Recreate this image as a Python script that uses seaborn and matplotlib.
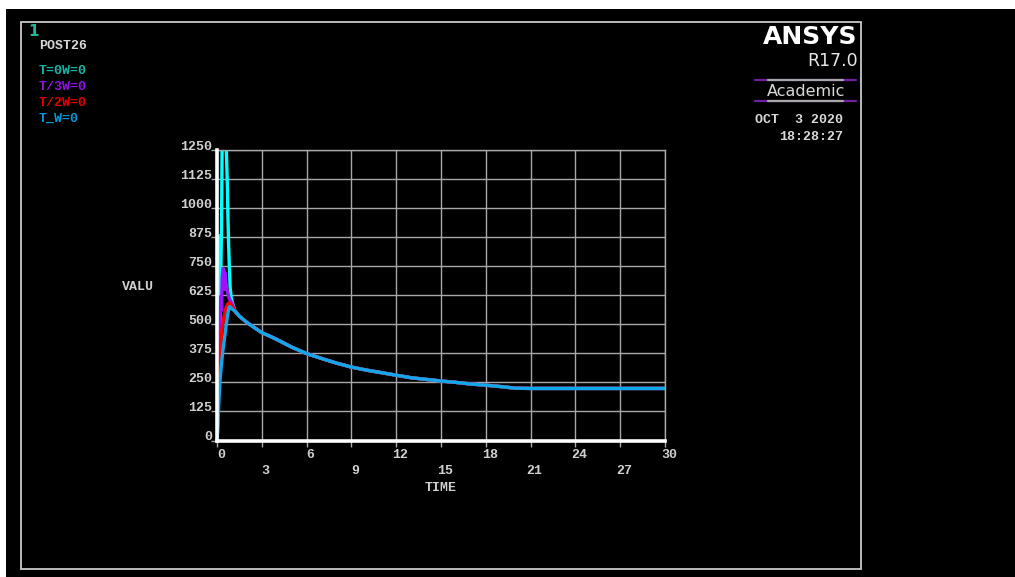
import numpy as np
import pandas as pd
import matplotlib
matplotlib.use("Agg")
import matplotlib.pyplot as plt
import seaborn as sns
from matplotlib.patches import Rectangle
from matplotlib.lines import Line2D

# ---------------- data ----------------
series_names = ["T=0W=0", "T/3W=0", "T/2W=0", "T_W=0"]
series_colors = ["#00ffff", "#a010ff", "#ff0000", "#10a8ec"]
label_colors = ["#12b5a5", "#9010e0", "#e00000", "#0098d8"]

cyan_time = [0, 0.05, 0.1, 0.15, 0.2, 0.3, 0.35, 0.45, 0.55, 0.6, 0.65, 0.7, 0.72,
             0.77, 0.82, 0.88, 0.95, 1.0]
cyan_vals = [0, 120, 300, 880, 500, 900, 1350, 1500, 1350, 1300, 1200, 1080, 1000,
             860, 760, 660, 615, 600]

purple_time = [0, 0.05, 0.1, 0.15, 0.2, 0.25, 0.3, 0.35, 0.4, 0.45, 0.5, 0.55, 0.6,
               0.65, 0.7, 0.8, 0.9, 1.0]
purple_vals = [0, 60, 200, 350, 520, 620, 560, 700, 740, 735, 650, 720, 680, 650,
               640, 615, 600, 590]

red_time = [0, 0.05, 0.1, 0.2, 0.3, 0.4, 0.5, 0.6, 0.7, 0.8, 0.9, 1.0]
red_vals = [0, 80, 220, 380, 460, 510, 540, 570, 585, 592, 588, 580]

blue_time = [0, 0.05, 0.1, 0.15, 0.2, 0.3, 0.4, 0.5, 0.6, 0.7, 0.8, 0.85, 1.0]
blue_vals = [0, 40, 130, 200, 260, 330, 390, 440, 490, 535, 572, 576, 566]

tail_time = [1.2, 1.5, 2, 2.5, 3, 3.5, 4, 5, 6, 7, 8, 9, 10, 11, 12, 13, 14, 15,
             16, 17, 18, 19, 20, 21, 30]
tail_vals = [557, 535, 508, 486, 464, 450, 435, 402, 374, 353, 333, 316, 303, 292,
             281, 270, 263, 256, 250, 243, 238, 232, 225, 224, 224]

x_ticks = [0, 3, 6, 9, 12, 15, 18, 21, 24, 27, 30]
x_tick_labels = ["0", "3", "6", "9", "12", "15", "18", "21", "24", "27", "30"]
y_ticks = [0, 125, 250, 375, 500, 625, 750, 875, 1000, 1125, 1250]
y_tick_labels = ["0", "125", "250", "375", "500", "625", "750", "875", "1000", "1125", "1250"]

early = [(cyan_time, cyan_vals), (purple_time, purple_vals),
         (red_time, red_vals), (blue_time, blue_vals)]
frames = []
for name, (tt, vv) in zip(series_names, early):
    frames.append(pd.DataFrame({"time": list(tt) + tail_time,
                                "value": list(vv) + tail_vals,
                                "series": name}))
df = pd.concat(frames, ignore_index=True)

# ---------------- style ----------------
sns.set_style("dark", {"axes.facecolor": "black", "figure.facecolor": "white"})
plt.rcParams["font.family"] = ["Liberation Mono", "DejaVu Sans Mono"]

W, H = 1015, 577
fig = plt.figure(figsize=(W / 100, H / 100), dpi=100)
fig.patch.set_facecolor("white")


def fx(px):
    return px / W


def fy(py):
    return 1 - py / H


# black background and frame
fig.add_artist(Rectangle((fx(6), 0), 1 - fx(6), fy(9), transform=fig.transFigure,
                         facecolor="black", edgecolor="none", zorder=0))
fig.add_artist(Rectangle((fx(21), fy(569)), fx(861) - fx(21), fy(22) - fy(569),
                         transform=fig.transFigure, facecolor="none",
                         edgecolor="#c8c8c8", lw=1.3, zorder=1))

ax = fig.add_axes([fx(217), fy(440.5), fx(665) - fx(217), fy(150) - fy(440.5)])
ax.set_facecolor("black")
ax.set_zorder(2)

sns.lineplot(data=df, x="time", y="value", hue="series", hue_order=series_names,
             palette=dict(zip(series_names, series_colors)), estimator=None,
             sort=False, lw=2.4, legend=False, ax=ax)

ax.set_xlim(0, 30)
ax.set_ylim(0, 1250)
ax.set_xticks(x_ticks)
ax.set_yticks(y_ticks)
ax.set_xticklabels([])
ax.set_yticklabels([])
ax.grid(True, color="#a8a8a8", lw=1.0)
ax.set_axisbelow(True)
ax.tick_params(axis="both", length=4, width=1, color="#a8a8a8", direction="out",
               bottom=True, left=True)
ax.set_xlabel("")
ax.set_ylabel("")
for s in ["top", "right"]:
    ax.spines[s].set_color("#a8a8a8")
    ax.spines[s].set_linewidth(1.0)
for s in ["left", "bottom"]:
    ax.spines[s].set_color("white")
    ax.spines[s].set_linewidth(2.6)
    ax.spines[s].set_zorder(5)

tick_font = dict(fontsize=9.5, color="#d0d0d0", fontweight="bold")
for i, (t, lab) in enumerate(zip(x_ticks, x_tick_labels)):
    dy = -15 if i % 2 == 0 else -30
    ax.annotate(lab, xy=(t, 0), xycoords=("data", "axes fraction"),
                xytext=(4, dy), textcoords="offset pixels", ha="center",
                va="center", annotation_clip=False, **tick_font)
for v, lab in zip(y_ticks, y_tick_labels):
    ax.annotate(lab, xy=(0, v), xycoords=("axes fraction", "data"),
                xytext=(-5, 3), textcoords="offset pixels", ha="right",
                va="center", annotation_clip=False, **tick_font)

# axis titles
fig.text(fx(441), fy(488), "TIME", ha="center", va="center", **tick_font)
fig.text(fx(138), fy(287), "VALU", ha="center", va="center", **tick_font)

# header texts
fig.text(fx(28), fy(31), "1", ha="left", va="center", fontsize=11,
         color="#1fb89a", fontweight="bold", family=["DejaVu Sans"])
fig.text(fx(39), fy(46), "POST26", ha="left", va="center", fontsize=9.5,
         color="#d8d8d8", fontweight="bold")
for i, (name, col) in enumerate(zip(series_names, label_colors)):
    fig.text(fx(39), fy(71 + 16 * i), name, ha="left", va="center",
             fontsize=9.5, color=col, fontweight="bold")

# ANSYS logo block
fig.text(fx(857), fy(37), "ANSYS", ha="right", va="center", fontsize=18,
         color="white", fontweight="bold", family=["DejaVu Sans"])
fig.text(fx(858), fy(61.5), "R17.0", ha="right", va="center", fontsize=12.5,
         color="#e8e8e8", family=["DejaVu Sans"])
for yy in (80, 101):
    fig.add_artist(Line2D([fx(755), fx(856)], [fy(yy), fy(yy)],
                          transform=fig.transFigure, color="#7020a0", lw=1.6))
    fig.add_artist(Line2D([fx(768), fx(843)], [fy(yy), fy(yy)],
                          transform=fig.transFigure, color="#a8a8a8", lw=1.6))
fig.text(fx(806), fy(91), "Academic", ha="center", va="center", fontsize=11.5,
         color="#d8d8d8", family=["DejaVu Sans"])
fig.text(fx(843), fy(120), "OCT  3 2020", ha="right", va="center",
         fontsize=9.5, color="#d8d8d8", fontweight="bold")
fig.text(fx(843), fy(137), "18:28:27", ha="right", va="center",
         fontsize=9.5, color="#d8d8d8", fontweight="bold")

fig.savefig("out.png", dpi=100, facecolor="white")
